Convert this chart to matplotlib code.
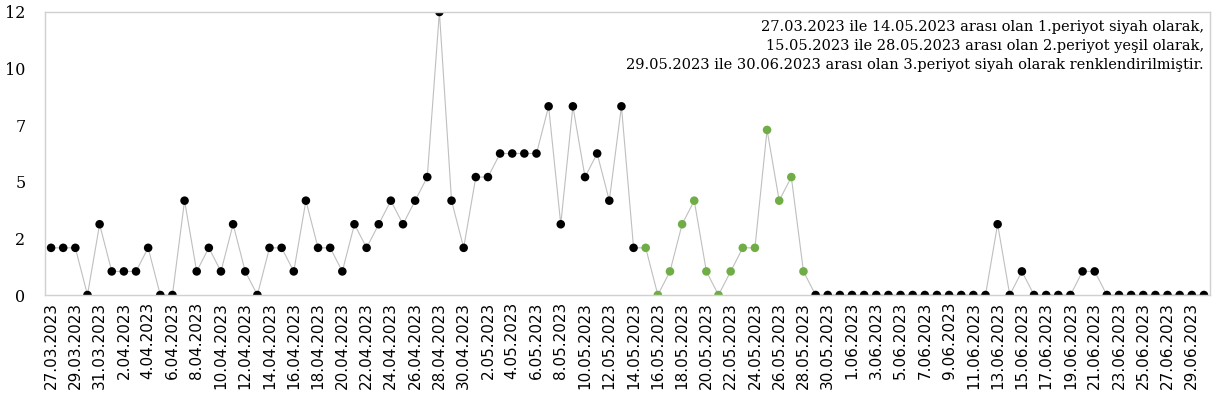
import matplotlib
matplotlib.use("Agg")
import matplotlib.pyplot as plt
from matplotlib import font_manager
import pandas as pd

# ---- data ----
start_date = "2023-03-27"
end_date = "2023-06-30"
period2_start = "2023-05-15"
period2_end = "2023-05-28"

values = [
    2, 2, 2, 0, 3, 1, 1, 1, 2, 0, 0, 4, 1, 2, 1, 3, 1, 0, 2, 2, 1, 4, 2, 2, 1,
    3, 2, 3, 4, 3, 4, 5, 12, 4, 2, 5, 5, 6, 6, 6, 6, 8, 3, 8, 5, 6, 4, 8, 2,
    2, 0, 1, 3, 4, 1, 0, 1, 2, 2, 7, 4, 5, 1,
    0, 0, 0, 0, 0, 0, 0, 0, 0, 0, 0, 0, 0, 0, 0, 3, 0, 1, 0, 0, 0, 0, 1, 1,
    0, 0, 0, 0, 0, 0, 0, 0, 0,
]
ytick_vals = [0, 2.4, 4.8, 7.2, 9.6, 12]
ytick_labels = ["0", "2", "5", "7", "10", "12"]
note_lines = [
    "27.03.2023 ile 14.05.2023 arası olan 1.periyot siyah olarak,",
    "15.05.2023 ile 28.05.2023 arası olan 2.periyot yeşil olarak,",
    "29.05.2023 ile 30.06.2023 arası olan 3.periyot siyah olarak renklendirilmiştir.",
]

dates = pd.date_range(start_date, end_date, freq="D")
labels = [f"{d.day}.{d.month:02d}.{d.year}" for d in dates]
p2s = pd.Timestamp(period2_start)
p2e = pd.Timestamp(period2_end)
colors = ["#70ad47" if p2s <= d <= p2e else "black" for d in dates]

names = {f.name for f in font_manager.fontManager.ttflist}
xfont = "Liberation Sans Narrow" if "Liberation Sans Narrow" in names else "DejaVu Sans"
xsize = 15 if xfont == "Liberation Sans Narrow" else 11
serif = "DejaVu Serif"

W, H = 1217, 408
fig = plt.figure(figsize=(W / 100, H / 100), dpi=100)
L, R, T, B = 45, 1210, 12, 295
ax = fig.add_axes([L / W, 1 - B / H, (R - L) / W, (B - T) / H])

x = list(range(len(values)))
ax.plot(x, values, color="#bfbfbf", lw=0.8, zorder=1)
ax.scatter(x, values, c=colors, s=38, zorder=2, linewidths=0)

ax.set_xlim(-0.5, len(values) - 0.5)
ax.set_ylim(0, 12)
ax.set_yticks(ytick_vals)
ax.set_yticklabels(ytick_labels, fontfamily=serif, fontsize=11.5)
ax.set_xticks(x[::2])
ax.set_xticklabels(labels[::2], rotation=90, fontfamily=xfont, fontsize=xsize,
                   va="top", ha="center")
ax.tick_params(axis="both", length=0)
ax.tick_params(axis="x", pad=5)
ax.tick_params(axis="y", pad=14)
for s in ax.spines.values():
    s.set_color("#d0d0d0")
    s.set_linewidth(1.0)

ax.text((1204 - L) / (R - L), (B - 20) / (B - T), "\n".join(note_lines),
        transform=ax.transAxes, ha="right", va="top", multialignment="right",
        fontfamily=serif, fontsize=10.5, linespacing=1.45, color="black")

fig.savefig("out.png", dpi=100)
